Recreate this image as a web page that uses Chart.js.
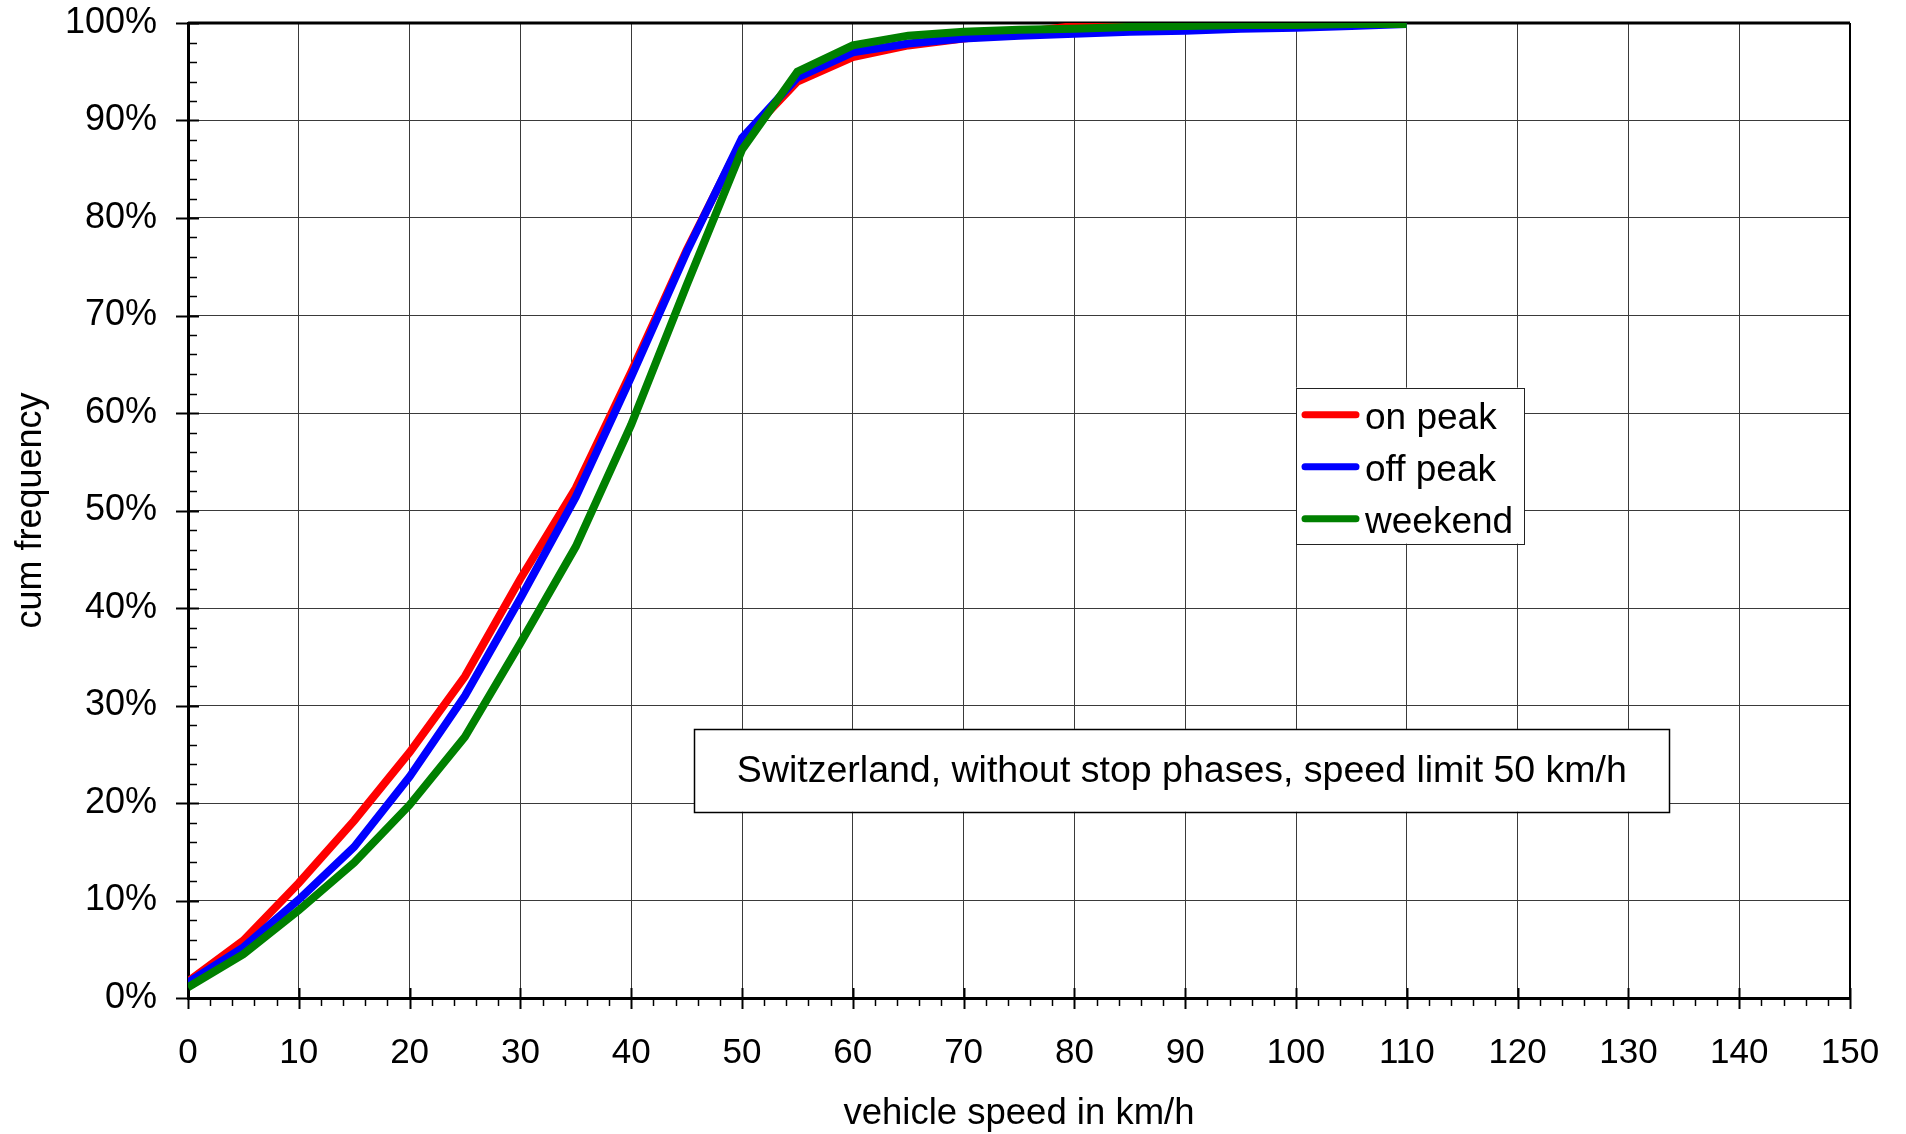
<!DOCTYPE html>
<html>
<head>
<meta charset="utf-8">
<title>cum frequency of vehicle speed</title>
<script src="https://cdn.jsdelivr.net/npm/chart.js@4.4.1/dist/chart.umd.min.js"></script>
<style>
  html, body { margin: 0; padding: 0; background: #fff; }
  canvas { display: block; }
</style>
</head>
<body>
<canvas id="speedChart" width="1906" height="1134"></canvas>
<script>
// speed classes in km/h, cumulative share in percent
const speeds = [0, 5, 10, 15, 20, 25, 30, 35, 40, 45, 50, 55, 60, 65, 70, 75, 80, 85, 90, 95, 100, 105, 110];
const onPeak = [1.7, 5.9, 11.8, 18.2, 25.2, 33.0, 43.0, 52.3, 64.2, 76.7, 88.0, 94.0, 96.5, 97.7, 98.4, 99.0, 99.7, 99.9, 100, 100, 100, 100, 100];
const offPeak = [1.6, 5.2, 10.1, 15.5, 22.7, 31.0, 41.0, 51.4, 63.7, 76.5, 88.2, 94.4, 97.0, 97.9, 98.4, 98.7, 98.9, 99.1, 99.2, 99.4, 99.5, 99.7, 99.9];
const weekend = [1.1, 4.5, 9.0, 13.9, 19.8, 26.8, 36.4, 46.3, 58.8, 73.1, 87.0, 95.0, 97.7, 98.7, 99.1, 99.3, 99.4, 99.6, 99.7, 99.8, 99.8, 99.9, 99.9];

const seriesNames = ['on peak', 'off peak', 'weekend'];
const seriesColors = ['#FF0000', '#0000FF', '#008000'];
const noteText = 'Switzerland, without stop phases, speed limit 50 km/h';

const FONT = "'Liberation Sans', Arial, sans-serif";

const toPoints = values => speeds.map((s, i) => ({x: s, y: values[i]}));

// later datasets get a lower order so weekend ends up on top
const datasets = [onPeak, offPeak, weekend].map((values, i) => ({
    label: seriesNames[i],
    data: toPoints(values),
    borderColor: seriesColors[i],
    backgroundColor: seriesColors[i],
    borderWidth: 8,
    pointRadius: 0,
    tension: 0,
    fill: false,
    order: 3 - i,
}));

// tick marks, frame, legend and the note box
const decorations = {
    id: 'decorations',
    beforeDatasetsDraw(chart) {
        const {ctx, chartArea: a, scales: {x, y}} = chart;
        ctx.save();
        ctx.strokeStyle = '#000';

        // y ticks: majors cross the axis, minors point inward
        for (let v = 0; v <= 100; v += 2) {
            const py = Math.round(y.getPixelForValue(v)) + 0.5;
            const major = v % 10 === 0;
            ctx.lineWidth = major ? 2 : 1.5;
            ctx.beginPath();
            ctx.moveTo(major ? a.left - 12 : a.left, py);
            ctx.lineTo(major ? a.left + 11 : a.left + 9, py);
            ctx.stroke();
        }
        // x ticks: majors cross the axis, minors point outward
        for (let v = 0; v <= 150; v += 2) {
            const px = Math.round(x.getPixelForValue(v)) + 0.5;
            const major = v % 10 === 0;
            ctx.lineWidth = major ? 2 : 1.5;
            ctx.beginPath();
            ctx.moveTo(px, major ? a.bottom - 10 : a.bottom);
            ctx.lineTo(px, major ? a.bottom + 11 : a.bottom + 8);
            ctx.stroke();
        }
        // top and right edge of the frame
        ctx.lineWidth = 3;
        ctx.beginPath();
        ctx.moveTo(a.left, a.top);
        ctx.lineTo(a.right, a.top);
        ctx.stroke();
        ctx.lineWidth = 2;
        ctx.beginPath();
        ctx.moveTo(a.right, a.top);
        ctx.lineTo(a.right, a.bottom);
        ctx.stroke();
        ctx.restore();
    },
    afterDraw(chart) {
        const {ctx, scales: {x, y}} = chart;
        ctx.save();

        // legend
        const lx0 = x.getPixelForValue(100), lx1 = x.getPixelForValue(120.6);
        const ly0 = y.getPixelForValue(62.6), ly1 = y.getPixelForValue(46.6);
        ctx.fillStyle = '#fff';
        ctx.fillRect(lx0, ly0, lx1 - lx0, ly1 - ly0);
        ctx.strokeStyle = '#222';
        ctx.lineWidth = 1;
        ctx.strokeRect(Math.round(lx0) + 0.5, Math.round(ly0) + 0.5, Math.round(lx1 - lx0), Math.round(ly1 - ly0));
        ctx.font = '37px ' + FONT;
        ctx.textBaseline = 'middle';
        ctx.textAlign = 'left';
        const rowH = (ly1 - ly0) / 3;
        seriesNames.forEach((name, i) => {
            const cy = ly0 + rowH * (i + 0.5) + 5;
            ctx.strokeStyle = seriesColors[i];
            ctx.lineWidth = 7;
            ctx.lineCap = 'round';
            ctx.beginPath();
            ctx.moveTo(lx0 + 9, cy - 4);
            ctx.lineTo(lx0 + 60, cy - 4);
            ctx.stroke();
            ctx.fillStyle = '#000';
            ctx.fillText(name, lx0 + 69, cy);
        });

        // note box
        const nx0 = x.getPixelForValue(45.7), nx1 = x.getPixelForValue(133.7);
        const ny0 = y.getPixelForValue(27.6), ny1 = y.getPixelForValue(19.1);
        ctx.fillStyle = '#fff';
        ctx.fillRect(nx0, ny0, nx1 - nx0, ny1 - ny0);
        ctx.strokeStyle = '#000';
        ctx.lineWidth = 1.5;
        ctx.strokeRect(Math.round(nx0) + 0.5, Math.round(ny0) + 0.5, Math.round(nx1 - nx0), Math.round(ny1 - ny0));
        ctx.fillStyle = '#000';
        ctx.font = '37.5px ' + FONT;
        ctx.textAlign = 'center';
        ctx.textBaseline = 'middle';
        ctx.fillText(noteText, (nx0 + nx1) / 2, (ny0 + ny1) / 2 + 1);
        ctx.restore();
    }
};

new Chart(document.getElementById('speedChart'), {
    type: 'line',
    data: {datasets},
    options: {
        responsive: false,
        devicePixelRatio: 1,
        animation: false,
        layout: {padding: {top: 23, right: 56, left: 0, bottom: 0}},
        plugins: {
            legend: {display: false},
            tooltip: {enabled: false},
        },
        scales: {
            x: {
                type: 'linear',
                min: 0,
                max: 150,
                afterFit: scale => {
                    scale.height = 136;
                    scale.paddingLeft = 0;
                    scale.paddingRight = 0;
                },
                ticks: {
                    stepSize: 10,
                    color: '#000',
                    font: {family: FONT, size: 35},
                    padding: 34,
                    maxRotation: 0,
                },
                grid: {color: '#3a3a3a', lineWidth: 1, drawTicks: false},
                border: {color: '#000', width: 3},
                title: {
                    display: true,
                    text: 'vehicle speed in km/h',
                    color: '#000',
                    font: {family: FONT, size: 36.5},
                    padding: {top: 0, bottom: -2},
                },
            },
            y: {
                min: 0,
                max: 100,
                afterFit: scale => {
                    scale.width = 188;
                    scale.paddingTop = 0;
                    scale.paddingBottom = 0;
                },
                ticks: {
                    stepSize: 10,
                    color: '#000',
                    font: {family: FONT, size: 36},
                    padding: 31,
                    callback: v => v + '%',
                },
                grid: {color: '#3a3a3a', lineWidth: 1, drawTicks: false},
                border: {color: '#000', width: 3},
                title: {
                    display: true,
                    text: 'cum frequency',
                    color: '#000',
                    font: {family: FONT, size: 36},
                    padding: {top: 9, bottom: 0},
                },
            },
        },
    },
    plugins: [decorations],
});
</script>
</body>
</html>
